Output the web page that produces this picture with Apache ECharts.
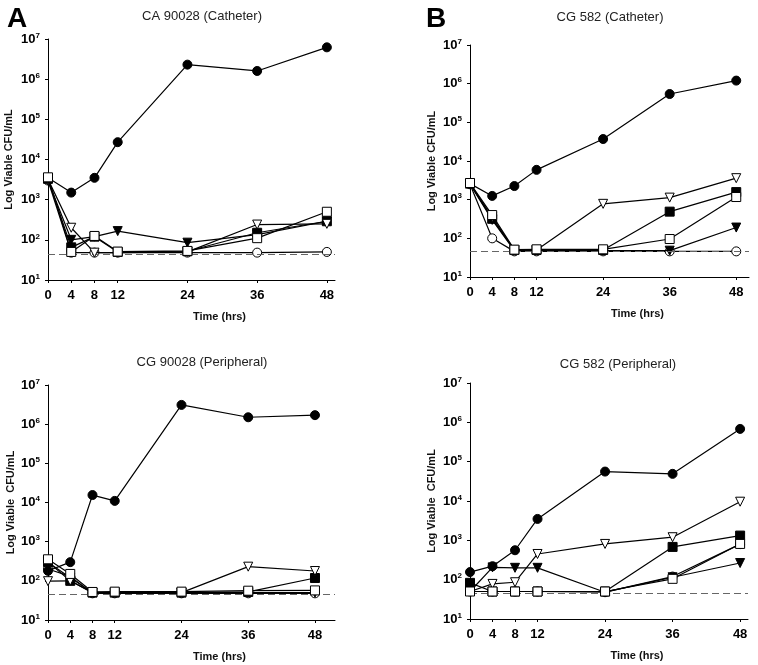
<!DOCTYPE html>
<html lang="en">
<head>
    <meta charset="UTF-8">
    <title>Log Viable CFU/mL</title>
    <script src="https://cdn.jsdelivr.net/npm/echarts@6/dist/echarts.min.js"></script>
    <style>
        body {
            padding: 0;
            margin: 0;
            background: #fff;
        }
        #ec {
            width: 758px;
            height: 665px;
        }
    </style>
</head>
<body>
<div id="ec"></div>
<script>
    // time points (hrs) and x tick labels
    const hours = [0, 4, 8, 12, 24, 36, 48];
    const xTickLabels = [0, 4, 8, 12, 24, 36, 48];
    const detectLimit = 45;

    // A - CA 90028 (Catheter)
    const A_filledCircle = [3500, 1500, 3500, 27000, 2300000, 1600000, 6200000];
    const A_openTri = [3200, 200, 48, 48, 50, 240, 250];
    const A_filledSquare = [3300, 65, 120, 50, 52, 150, 290];
    const A_filledTri = [3000, 100, 120, 165, 85, 135, 290];
    const A_openSquare = [3600, 50, 125, 51, 53, 110, 500];
    const A_openCircle = [3000, 48, 48, 48, 48, 48, 50];

    // B - CG 582 (Catheter)
    const B_filledCircle = [2600, 1250, 2250, 5900, 37000, 540000, 1200000];
    const B_openTri = [2600, 350, 50, 50, 780, 1130, 3600];
    const B_filledSquare = [2600, 320, 50, 50, 50, 490, 1570];
    const B_filledTri = [2500, 300, 48, 48, 48, 48, 190];
    const B_openSquare = [2700, 400, 51, 52, 52, 96, 1170];
    const B_openCircle = [2500, 100, 46, 46, 46, 46, 46];

    // C - CG 90028 (Peripheral)
    const C_filledCircle = [180, 300, 15500, 11000, 3100000, 1500000, 1700000];
    const C_openTri = [98, 100, 50, 50, 50, 230, 178];
    const C_filledSquare = [300, 100, 50, 50, 50, 52, 118];
    const C_filledTri = [300, 120, 50, 50, 50, 50, 50];
    const C_openSquare = [355, 150, 52, 53, 53, 56, 57];
    const C_openCircle = [200, 130, 48, 48, 48, 48, 48];

    // D - CG 582 (Peripheral)
    const D_filledCircle = [156, 220, 560, 3500, 56000, 49000, 680000];
    const D_openTri = [50, 78, 86, 450, 810, 1200, 9600];
    const D_filledSquare = [83, 50, 50, 50, 50, 680, 1320];
    const D_filledTri = [50, 205, 200, 200, 48, 115, 265];
    const D_openSquare = [50, 50, 50, 50, 50, 105, 810];
    const D_openCircle = [50, 50, 50, 50, 48, 120, 800];

    const panels = [
        {title: 'CA 90028 (Catheter)', yName: 'Log Viable CFU/mL', tx: 197, ty: 5,
         box: {left: 48, top: 39, width: 287, height: 241}, xMax: 49.4, nameGap: 34,
         data: [A_filledCircle, A_openTri, A_filledSquare, A_filledTri, A_openSquare, A_openCircle]},
        {title: 'CG 582 (Catheter)', yName: 'Log Viable CFU/mL', tx: 605, ty: 6,
         box: {left: 470, top: 45, width: 279, height: 232}, xMax: 50.3, nameGap: 33,
         data: [B_filledCircle, B_openTri, B_filledSquare, B_filledTri, B_openSquare, B_openCircle]},
        {title: 'CG 90028 (Peripheral)', yName: 'Log Viable  CFU/mL', tx: 197, ty: 351,
         box: {left: 48, top: 385, width: 287, height: 235}, xMax: 51.6, nameGap: 32,
         data: [C_filledCircle, C_openTri, C_filledSquare, C_filledTri, C_openSquare, C_openCircle]},
        {title: 'CG 582 (Peripheral)', yName: 'Log Viable  CFU/mL', tx: 613, ty: 353,
         box: {left: 470, top: 383, width: 278, height: 236}, xMax: 49.4, nameGap: 33,
         data: [D_filledCircle, D_openTri, D_filledSquare, D_filledTri, D_openSquare, D_openCircle]}
    ];

    // marker styles in the same order as the data arrays
    const markers = [
        {symbol: 'circle', rotate: 0, fill: '#000'},
        {symbol: 'triangle', rotate: 180, fill: '#fff'},
        {symbol: 'rect', rotate: 0, fill: '#000'},
        {symbol: 'triangle', rotate: 180, fill: '#000'},
        {symbol: 'rect', rotate: 0, fill: '#fff'},
        {symbol: 'circle', rotate: 0, fill: '#fff'}
    ];
    const drawOrder = [5, 3, 2, 1, 0, 4];

    const font = 'Liberation Sans, Arial, sans-serif';
    let option = {
        backgroundColor: '#fff',
        animation: false,
        title: [
            {text: 'A', left: 2, top: 0, textStyle: {fontFamily: font, fontSize: 28, fontWeight: 900, color: '#000'}},
            {text: 'B', left: 421, top: 0, textStyle: {fontFamily: font, fontSize: 28, fontWeight: 900, color: '#000'}}
        ],
        grid: [],
        xAxis: [],
        yAxis: [],
        series: []
    };

    panels.forEach((p, i) => {
        option.title.push({
            text: p.title, left: p.tx, top: p.ty, textAlign: 'center',
            textStyle: {fontFamily: font, fontSize: 13, fontWeight: 'normal', color: '#222'}
        });
        option.grid.push(Object.assign({containLabel: false, outerBoundsMode: 'none'}, p.box));
        option.xAxis.push({
            gridIndex: i,
            type: 'value',
            min: 0,
            max: p.xMax,
            name: 'Time (hrs)',
            nameLocation: 'middle',
            nameGap: 31,
            nameTextStyle: {fontFamily: font, fontSize: 11, fontWeight: 'bold', color: '#111', padding: [0, 0, 0, 56]},
            axisLine: {lineStyle: {color: '#000', width: 1}},
            axisTick: {show: true, customValues: xTickLabels, length: 3, lineStyle: {color: '#000'}},
            axisLabel: {customValues: xTickLabels, margin: 9, fontFamily: font, fontSize: 13, fontWeight: 'bold', color: '#000'},
            splitLine: {show: false}
        });
        option.yAxis.push({
            gridIndex: i,
            type: 'log',
            logBase: 10,
            min: 10,
            max: 10000000,
            name: p.yName,
            nameLocation: 'middle',
            nameGap: p.nameGap,
            nameTextStyle: {fontFamily: font, fontSize: 11, fontWeight: 'bold', color: '#111'},
            axisLine: {show: true, lineStyle: {color: '#000', width: 1}},
            axisTick: {show: true, length: 3, lineStyle: {color: '#000'}},
            axisLabel: {
                margin: 8,
                formatter: v => '{b|10}{s|' + Math.round(Math.log10(v)) + '}',
                rich: {
                    b: {fontFamily: font, fontSize: 13, fontWeight: 'bold', color: '#000'},
                    s: {fontFamily: font, fontSize: 8, fontWeight: 'bold', color: '#000', verticalAlign: 'top', padding: [0, 0, 7, 0]}
                }
            },
            splitLine: {show: false}
        });
        drawOrder.forEach((k, n) => {
            let m = markers[k];
            let s = {
                type: 'line',
                xAxisIndex: i,
                yAxisIndex: i,
                z: 2 + n,
                data: hours.map((h, j) => [h, p.data[k][j]]),
                symbol: m.symbol,
                symbolRotate: m.rotate,
                symbolSize: 9,
                showAllSymbol: true,
                lineStyle: {color: '#000', width: 1.2},
                itemStyle: {color: m.fill, borderColor: '#000', borderWidth: 1},
                emphasis: {disabled: true}
            };
            if (n === 0) {
                s.markLine = {
                    silent: true,
                    symbol: 'none',
                    label: {show: false},
                    lineStyle: {color: '#666', type: [7, 4], width: 1},
                    data: [{yAxis: detectLimit}]
                };
            }
            option.series.push(s);
        });
    });

    let ec = echarts.init(document.getElementById('ec'));
    ec.setOption(option);
</script>
</body>
</html>
